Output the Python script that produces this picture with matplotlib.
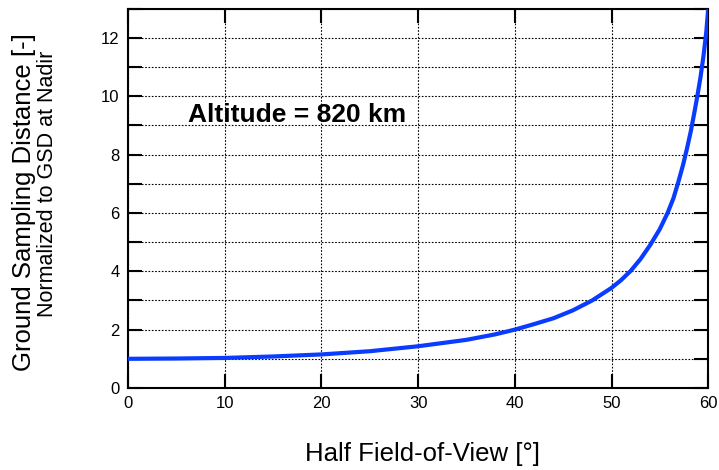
import numpy as np
import matplotlib.pyplot as plt
from matplotlib.ticker import MultipleLocator

plt.rcParams['font.family'] = ['Liberation Sans', 'DejaVu Sans']

# Half field-of-view [deg] and normalized GSD
half_fov = [0, 5, 10, 15, 20, 25, 30, 35, 38, 40, 42, 44, 46, 48, 50, 51,
            52, 53, 54, 55, 55.8, 56.4, 56.9, 57.4, 57.8, 58.2, 58.6, 58.9,
            59.2, 59.5, 59.8, 60]
gsd_norm = [1.0, 1.01, 1.03, 1.08, 1.15, 1.26, 1.43, 1.65, 1.84, 2.0, 2.19,
            2.39, 2.66, 3.0, 3.43, 3.7, 4.02, 4.42, 4.9, 5.45, 6.0, 6.5,
            7.05, 7.65, 8.2, 8.8, 9.5, 10.05, 10.65, 11.35, 12.2, 13.0]

fig = plt.figure(figsize=(7.19, 4.70), dpi=100)
ax = fig.add_axes([0.178, 0.1745, 0.807, 0.807])

ax.plot(half_fov, gsd_norm, color='#0a3cff', lw=3, zorder=3,
        solid_joinstyle='round')

ax.set_xlim(0, 60)
ax.set_ylim(0, 13)
ax.xaxis.set_major_locator(MultipleLocator(10))
ax.yaxis.set_major_locator(MultipleLocator(2))
ax.yaxis.set_minor_locator(MultipleLocator(1))

ax.grid(True, which='both', axis='y', color='black', ls=(0, (1.5, 1.5)), lw=0.8)
ax.grid(True, which='major', axis='x', color='black', ls=(0, (1.5, 1.5)), lw=0.8)

ax.tick_params(which='both', direction='in', top=True, right=True,
               length=10, width=1.5, labelsize=12, pad=6)
for s in ax.spines.values():
    s.set_linewidth(1.5)

ax.text(6.2, 9.11, 'Altitude = 820 km', fontsize=19, fontweight='bold',
        va='baseline', ha='left')

fig.text(0.587, 0.034, 'Half Field-of-View [°]', fontsize=18.5,
         ha='center', va='center')
fig.text(0.033, 0.570, 'Ground Sampling Distance [-]', rotation=90,
         fontsize=18.5, ha='center', va='center')
fig.text(0.066, 0.609, 'Normalized to GSD at Nadir', rotation=90,
         fontsize=15.5, ha='center', va='center')

fig.savefig('out.png', dpi=100)
